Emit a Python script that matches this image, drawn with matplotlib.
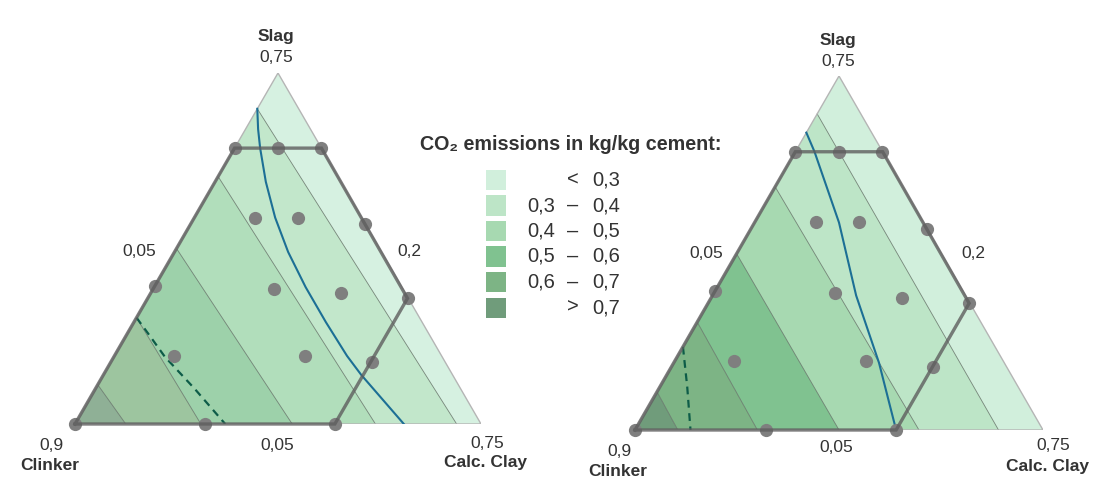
import matplotlib.pyplot as plt
import numpy as np

plt.rcParams['font.family'] = ['Liberation Sans', 'DejaVu Sans']

# emission bands, lightest first
band_lo = ['', '0,3', '0,4', '0,5', '0,6', '']
band_sep = ['<', '–', '–', '–', '–', '>']
band_hi = ['0,3', '0,4', '0,5', '0,6', '0,7', '0,7']
right_colors = ['#d1efdc', '#bde5c7', '#a7d9b1', '#80c290', '#7db485', '#709c7b']
left_colors = ['#d6f1e1', '#c2e7cb', '#b1debb', '#9dd1aa', '#9dc59f', '#8fb096']

# contour boundaries (0.3 .. 0.7) read where they cut the Clinker-Slag edge
# (slag share) and the Clinker-Clay edge (clay share)
left_cut_slag = [0.898, 0.705, 0.50, 0.303, 0.112]
left_cut_clay = [0.94, 0.74, 0.535, 0.31, 0.125]
right_cut_slag = [0.893, 0.687, 0.498, 0.305, 0.108]
right_cut_clay = [0.891, 0.696, 0.50, 0.30, 0.105]

# mix design points (slag, clay)
pts_slag = [0.786, 0.786, 0.786, 0.588, 0.588, 0.569, 0.392, 0.386, 0.373, 0.358,
            0.194, 0.194, 0.178, 0.0, 0.0, 0.0]
pts_clay = [0.0, 0.108, 0.212, 0.15, 0.255, 0.43, 0.0, 0.297, 0.468, 0.64,
            0.146, 0.47, 0.642, 0.0, 0.32, 0.64]

# design space outline
region_slag = [0.0, 0.0, 0.358, 0.786, 0.786, 0.0]
region_clay = [0.0, 0.64, 0.64, 0.214, 0.0, 0.0]

# blue (solid) and green (dashed) lines
left_blue_slag = [0.898, 0.84, 0.786, 0.69, 0.588, 0.49, 0.39, 0.29, 0.194, 0.14, 0.0]
left_blue_clay = [0.0, 0.031, 0.063, 0.125, 0.199, 0.28, 0.373, 0.473, 0.573, 0.635, 0.81]
left_dash_slag = [0.303, 0.25, 0.192, 0.1, 0.0]
left_dash_clay = [0.0, 0.06, 0.125, 0.245, 0.37]
right_blue_slag = [0.84, 0.786, 0.586, 0.38, 0.19, 0.0]
right_blue_clay = [0.0, 0.047, 0.207, 0.352, 0.503, 0.64]
right_dash_slag = [0.235, 0.122, 0.0]
right_dash_clay = [0.0, 0.067, 0.136]

W, H = 1093, 495


def to_xy(slag, clay):
    slag = np.asarray(slag, float)
    clay = np.asarray(clay, float)
    return clay + slag / 2, slag


def clip(poly, f):
    out = []
    for i in range(len(poly)):
        p, q = poly[i], poly[(i + 1) % len(poly)]
        fp, fq = f(p), f(q)
        if fp >= 0:
            out.append(p)
        if (fp >= 0) != (fq >= 0):
            t = fp / (fp - fq)
            out.append(p + t * (q - p))
    return out


def boundary(S, C):
    # >0 on the far side of the contour (lower emission)
    return lambda p: p[1] / S + (p[0] - p[1] / 2) / C - 1


def panel(box, cut_slag, cut_clay, colors, blue, dash):
    x0, y0, x1, ytop = box
    ax = fig.add_axes([x0 / W, 1 - y0 / H, (x1 - x0) / W, (y0 - ytop) / H])
    ax.set_xlim(0, 1)
    ax.set_ylim(0, 1)
    ax.axis('off')
    tri = [np.array(p, float) for p in [(0, 0), (1, 0), (0.5, 1)]]

    n = len(cut_slag)
    for k in range(n + 1):
        poly = tri
        if k < n:
            poly = clip(poly, boundary(cut_slag[k], cut_clay[k]))
        if k > 0:
            gprev = boundary(cut_slag[k - 1], cut_clay[k - 1])
            poly = clip(poly, lambda p, g=gprev: -g(p))
        if len(poly) > 2:
            ax.add_patch(plt.Polygon(poly, closed=True, fc=colors[k], ec='none'))
    for S, C in zip(cut_slag, cut_clay):
        ax.plot([S / 2, C], [S, 0], color='#5d6b60', lw=0.6, alpha=0.8)

    tx, ty = zip(*tri)
    ax.plot(list(tx) + [0], list(ty) + [0], color='#b5b5b5', lw=1)

    bx, by = to_xy(*blue)
    ax.plot(bx, by, color='#1c6f95', lw=1.5)
    dx, dy = to_xy(*dash)
    ax.plot(dx, dy, color='#0d5c48', lw=1.6, dashes=(3.5, 2.5))

    px, py = to_xy(pts_slag, pts_clay)
    ax.plot(px, py, 'o', color='#7f7f7f', ms=9.5, mec='none', clip_on=False)
    rx, ry = to_xy(region_slag, region_clay)
    ax.plot(rx, ry, color='#5e5e5e', lw=2.4, alpha=0.8, clip_on=False,
            solid_joinstyle='miter')


def label(x, y, s, bold=False, size=12.5, ha='center'):
    fig.text(x / W, 1 - y / H, s, ha=ha, va='center', fontsize=size,
             fontweight='bold' if bold else 'normal', color='#333333')


fig = plt.figure(figsize=(W / 100, H / 100), dpi=100)

panel((75, 424, 481, 73), left_cut_slag, left_cut_clay, left_colors,
      (left_blue_slag, left_blue_clay), (left_dash_slag, left_dash_clay))
panel((635, 430, 1043, 76), right_cut_slag, right_cut_clay, right_colors,
      (right_blue_slag, right_blue_clay), (right_dash_slag, right_dash_clay))

# axis labels
for (x, y, s, b) in [(276, 36, 'Slag', True), (276, 57, '0,75', False),
                     (139, 252, '0,05', False), (409, 252, '0,2', False),
                     (51, 445, '0,9', False), (50, 465, 'Clinker', True),
                     (277, 445, '0,05', False), (487, 443, '0,75', False),
                     (486, 463, 'Calc. Clay', True),
                     (838, 40, 'Slag', True), (838, 62, '0,75', False),
                     (706, 254, '0,05', False), (973, 254, '0,2', False),
                     (619, 452, '0,9', False), (618, 472, 'Clinker', True),
                     (836, 448, '0,05', False), (1053, 446, '0,75', False),
                     (1047, 467, 'Calc. Clay', True)]:
    label(x, y, s, bold=b)

# legend
label(420, 144, 'CO₂ emissions in kg/kg cement:', bold=True, size=14.2, ha='left')
for i in range(len(band_hi)):
    y = 180 + 25.5 * i
    fig.patches.append(plt.Rectangle((486 / W, 1 - (y + 10) / H), 20 / W, 20 / H,
                                     transform=fig.transFigure, fc=right_colors[i],
                                     ec='none'))
    if band_lo[i]:
        label(555, y, band_lo[i], size=14.5, ha='right')
    label(573, y, band_sep[i], size=14.5)
    label(592, y, band_hi[i], size=14.5, ha='left')

fig.savefig('out.png', dpi=100)
